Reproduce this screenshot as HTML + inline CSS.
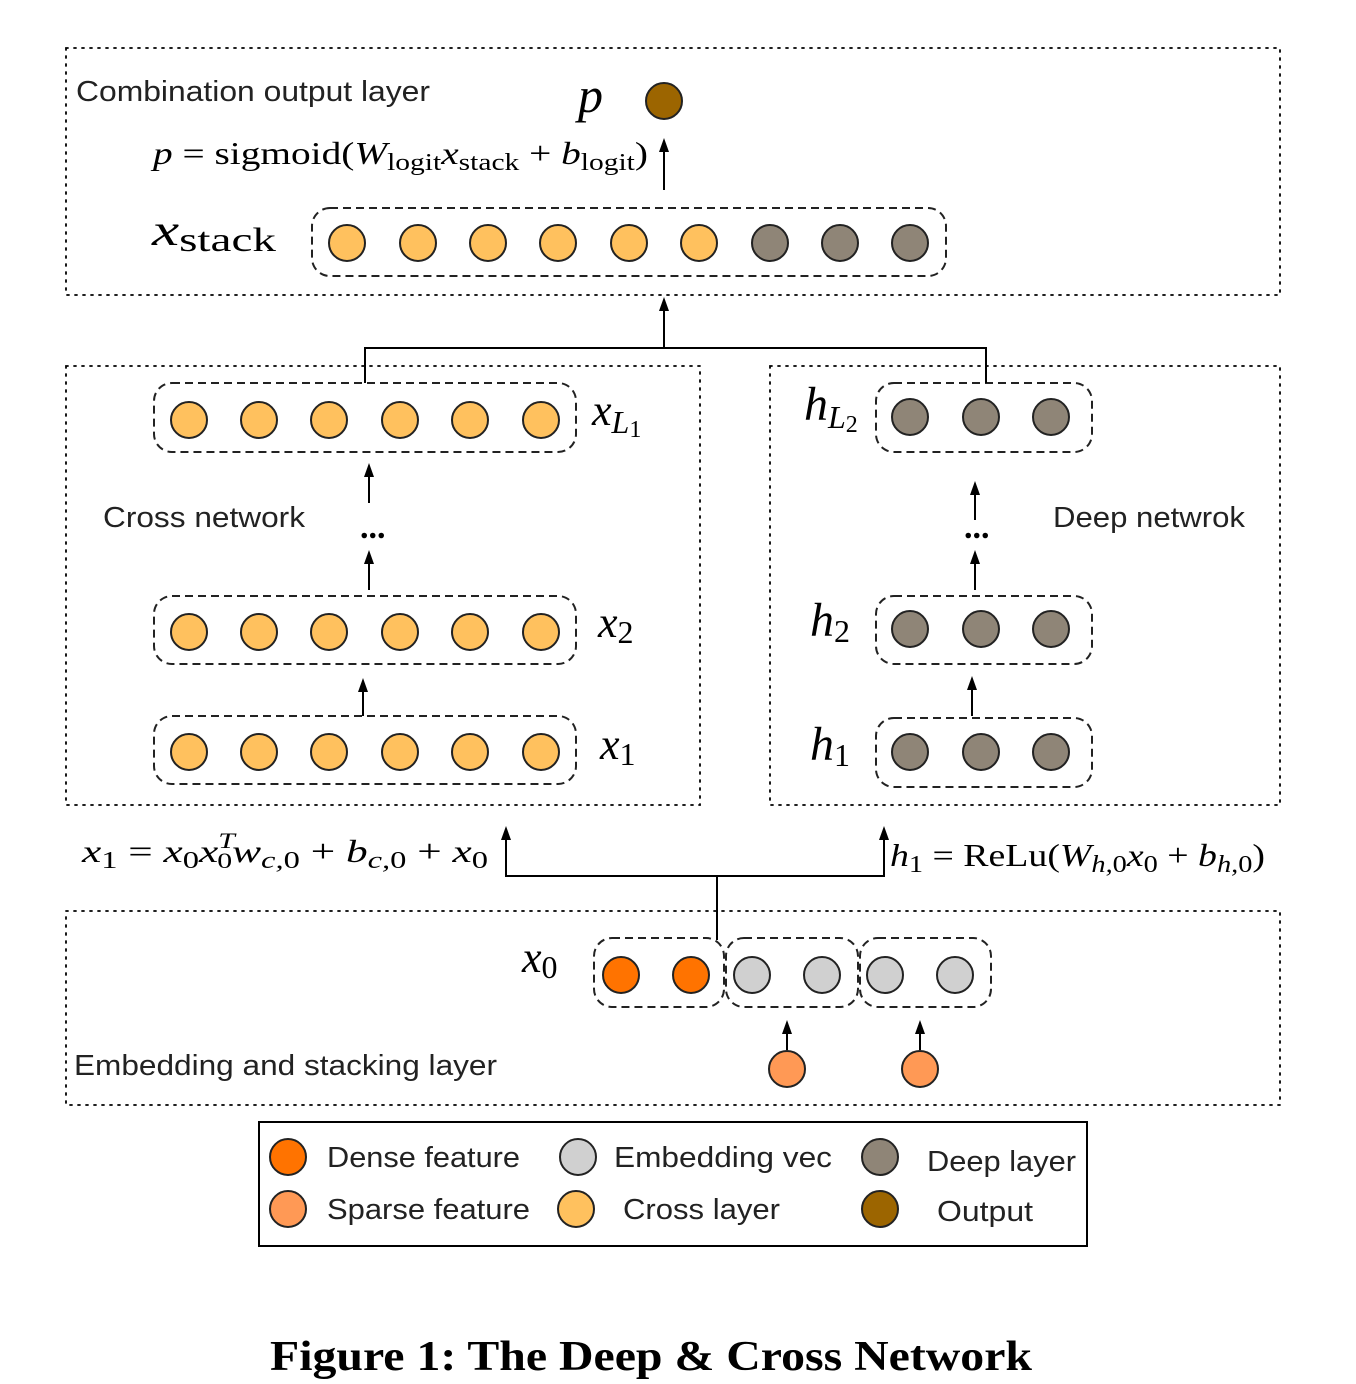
<!DOCTYPE html>
<html><head><style>body{margin:0;background:#fff}svg{display:block}</style></head><body>
<svg width="1356" height="1384" viewBox="0 0 1356 1384" xmlns="http://www.w3.org/2000/svg">
<g fill="none" stroke="#000" stroke-width="1.8" stroke-dasharray="2,6" stroke-linecap="round">
<rect x="66" y="48" width="1214" height="247"/>
<rect x="66" y="366" width="634" height="439"/>
<rect x="770" y="366" width="510" height="439"/>
<rect x="66" y="911" width="1214" height="194"/>
</g>
<g fill="none" stroke="#222" stroke-width="2" stroke-dasharray="8,5">
<rect x="312" y="208" width="634" height="68" rx="18"/>
<rect x="154" y="383" width="422" height="69" rx="18"/>
<rect x="154" y="596" width="422" height="68" rx="18"/>
<rect x="154" y="716" width="422" height="68" rx="18"/>
<rect x="876" y="383" width="216" height="69" rx="18"/>
<rect x="876" y="596" width="216" height="68" rx="18"/>
<rect x="876" y="718" width="216" height="69" rx="18"/>
<rect x="594" y="938" width="130" height="69" rx="18"/>
<rect x="726" y="938" width="132" height="69" rx="18"/>
<rect x="860" y="938" width="131" height="69" rx="18"/>
</g>
<g stroke="#000" stroke-width="2" fill="none">
<line x1="664" y1="190" x2="664" y2="148"/>
<line x1="664" y1="348" x2="664" y2="307"/>
<polyline points="365,383 365,348 986,348 986,383"/>
<line x1="369" y1="503" x2="369" y2="473"/>
<line x1="369" y1="590" x2="369" y2="560"/>
<line x1="363" y1="716" x2="363" y2="688"/>
<line x1="975" y1="520" x2="975" y2="491"/>
<line x1="975" y1="590" x2="975" y2="560"/>
<line x1="972" y1="716" x2="972" y2="686"/>
<line x1="717" y1="940" x2="717" y2="876"/>
<polyline points="506,836 506,876 884,876 884,836"/>
<line x1="787" y1="1050" x2="787" y2="1030"/>
<line x1="920" y1="1050" x2="920" y2="1030"/>
</g>
<g fill="#000">
<polygon points="659,152 664,138 669,152"/>
<polygon points="659,311 664,297 669,311"/>
<polygon points="364,477 369,463 374,477"/>
<polygon points="364,564 369,550 374,564"/>
<polygon points="358,692 363,678 368,692"/>
<polygon points="970,495 975,481 980,495"/>
<polygon points="970,564 975,550 980,564"/>
<polygon points="967,690 972,676 977,690"/>
<polygon points="501,840 506,826 511,840"/>
<polygon points="879,840 884,826 889,840"/>
<polygon points="782,1034 787,1020 792,1034"/>
<polygon points="915,1034 920,1020 925,1034"/>
</g>
<g stroke="#222" stroke-width="2">
<circle cx="664" cy="101" r="18" fill="#9C6500"/>
<g fill="#FFC15E">
<circle cx="347" cy="243" r="18"/><circle cx="418" cy="243" r="18"/><circle cx="488" cy="243" r="18"/><circle cx="558" cy="243" r="18"/><circle cx="629" cy="243" r="18"/><circle cx="699" cy="243" r="18"/>
<circle cx="189" cy="420" r="18"/><circle cx="259" cy="420" r="18"/><circle cx="329" cy="420" r="18"/><circle cx="400" cy="420" r="18"/><circle cx="470" cy="420" r="18"/><circle cx="541" cy="420" r="18"/>
<circle cx="189" cy="632" r="18"/><circle cx="259" cy="632" r="18"/><circle cx="329" cy="632" r="18"/><circle cx="400" cy="632" r="18"/><circle cx="470" cy="632" r="18"/><circle cx="541" cy="632" r="18"/>
<circle cx="189" cy="752" r="18"/><circle cx="259" cy="752" r="18"/><circle cx="329" cy="752" r="18"/><circle cx="400" cy="752" r="18"/><circle cx="470" cy="752" r="18"/><circle cx="541" cy="752" r="18"/>
<circle cx="576" cy="1209" r="18"/>
</g>
<g fill="#8F8577">
<circle cx="770" cy="243" r="18"/><circle cx="840" cy="243" r="18"/><circle cx="910" cy="243" r="18"/>
<circle cx="910" cy="417" r="18"/><circle cx="981" cy="417" r="18"/><circle cx="1051" cy="417" r="18"/>
<circle cx="910" cy="629" r="18"/><circle cx="981" cy="629" r="18"/><circle cx="1051" cy="629" r="18"/>
<circle cx="910" cy="752" r="18"/><circle cx="981" cy="752" r="18"/><circle cx="1051" cy="752" r="18"/>
<circle cx="880" cy="1157" r="18"/>
</g>
<g fill="#FF7300"><circle cx="621" cy="975" r="18"/><circle cx="691" cy="975" r="18"/><circle cx="288" cy="1157" r="18"/></g>
<g fill="#D0D0D0"><circle cx="752" cy="975" r="18"/><circle cx="822" cy="975" r="18"/><circle cx="885" cy="975" r="18"/><circle cx="955" cy="975" r="18"/><circle cx="578" cy="1157" r="18"/></g>
<g fill="#FF9955"><circle cx="787" cy="1069" r="18"/><circle cx="920" cy="1069" r="18"/><circle cx="288" cy="1209" r="18"/></g>
<circle cx="880" cy="1209" r="18" fill="#9C6500"/>
</g>
<rect x="259" y="1122" width="828" height="124" fill="none" stroke="#000" stroke-width="2"/>
<g font-family="Liberation Sans, sans-serif" font-size="29" fill="#222">
<text x="76" y="101" textLength="354" lengthAdjust="spacingAndGlyphs">Combination output layer</text>
<text x="103" y="527" textLength="202" lengthAdjust="spacingAndGlyphs">Cross network</text>
<text x="1053" y="527" textLength="192" lengthAdjust="spacingAndGlyphs">Deep netwrok</text>
<text x="74" y="1075" textLength="423" lengthAdjust="spacingAndGlyphs">Embedding and stacking layer</text>
<text x="327" y="1167" textLength="193" lengthAdjust="spacingAndGlyphs">Dense feature</text>
<text x="327" y="1219" textLength="203" lengthAdjust="spacingAndGlyphs">Sparse feature</text>
<text x="614" y="1167" textLength="218" lengthAdjust="spacingAndGlyphs">Embedding vec</text>
<text x="623" y="1219" textLength="157" lengthAdjust="spacingAndGlyphs">Cross layer</text>
<text x="927" y="1171" textLength="149" lengthAdjust="spacingAndGlyphs">Deep layer</text>
<text x="937" y="1221" textLength="96" lengthAdjust="spacingAndGlyphs">Output</text>
</g>
<g font-family="Liberation Serif, serif" fill="#000">
<text x="578" y="112" font-size="50" font-style="italic">p</text>
<text x="153" y="164" font-size="32" textLength="495" lengthAdjust="spacingAndGlyphs"><tspan font-style="italic">p</tspan> = sigmoid(<tspan font-style="italic">W</tspan><tspan font-size="24" dy="6">logit</tspan><tspan font-style="italic" dy="-6">x</tspan><tspan font-size="24" dy="6">stack</tspan><tspan dy="-6"> + </tspan><tspan font-style="italic">b</tspan><tspan font-size="24" dy="6">logit</tspan><tspan dy="-6">)</tspan></text>
<text x="152" y="245" font-size="44" textLength="124" lengthAdjust="spacingAndGlyphs"><tspan font-style="italic">x</tspan><tspan font-size="34" dy="6">stack</tspan></text>
<text x="592" y="425" font-size="44"><tspan font-style="italic">x</tspan><tspan font-style="italic" font-size="32" dy="8">L</tspan><tspan font-size="24" dy="4">1</tspan></text>
<text x="598" y="637" font-size="44"><tspan font-style="italic">x</tspan><tspan font-size="32" dy="6">2</tspan></text>
<text x="600" y="759" font-size="44"><tspan font-style="italic">x</tspan><tspan font-size="32" dy="6">1</tspan></text>
<text x="804" y="420" font-size="48"><tspan font-style="italic">h</tspan><tspan font-style="italic" font-size="32" dy="8">L</tspan><tspan font-size="24" dy="4">2</tspan></text>
<text x="810" y="636" font-size="48"><tspan font-style="italic">h</tspan><tspan font-size="32" dy="6">2</tspan></text>
<text x="810" y="760" font-size="48"><tspan font-style="italic">h</tspan><tspan font-size="32" dy="6">1</tspan></text>
<text x="522" y="972" font-size="44"><tspan font-style="italic">x</tspan><tspan font-size="32" dy="6">0</tspan></text>
<text x="360" y="538" font-size="34" font-weight="bold">...</text>
<text x="964" y="538" font-size="34" font-weight="bold">...</text>
<text x="82" y="862" font-size="32" textLength="406" lengthAdjust="spacingAndGlyphs"><tspan font-style="italic">x</tspan><tspan font-size="24" dy="6">1</tspan><tspan dy="-6"> = </tspan><tspan font-style="italic">x</tspan><tspan font-size="24" dy="6">0</tspan><tspan font-style="italic" dy="-6">x</tspan><tspan font-size="22" font-style="italic" dy="-14">T</tspan><tspan font-size="22" dx="-13" dy="20">0</tspan><tspan font-style="italic" dy="-6">w</tspan><tspan font-size="24" font-style="italic" dy="6">c,</tspan><tspan font-size="24">0</tspan><tspan dy="-6"> + </tspan><tspan font-style="italic">b</tspan><tspan font-size="24" font-style="italic" dy="6">c,</tspan><tspan font-size="24">0</tspan><tspan dy="-6"> + </tspan><tspan font-style="italic">x</tspan><tspan font-size="24" dy="6">0</tspan></text>
<text x="890" y="866" font-size="32" textLength="375" lengthAdjust="spacingAndGlyphs"><tspan font-style="italic">h</tspan><tspan font-size="24" dy="6">1</tspan><tspan dy="-6"> = ReLu(</tspan><tspan font-style="italic">W</tspan><tspan font-size="24" font-style="italic" dy="6">h,</tspan><tspan font-size="24">0</tspan><tspan font-style="italic" dy="-6">x</tspan><tspan font-size="24" dy="6">0</tspan><tspan dy="-6"> + </tspan><tspan font-style="italic">b</tspan><tspan font-size="24" font-style="italic" dy="6">h,</tspan><tspan font-size="24">0</tspan><tspan dy="-6">)</tspan></text>
<text x="270" y="1370" font-size="42" font-weight="bold" textLength="762" lengthAdjust="spacingAndGlyphs">Figure 1: The Deep &amp; Cross Network</text>
</g>
</svg>
</body></html>
